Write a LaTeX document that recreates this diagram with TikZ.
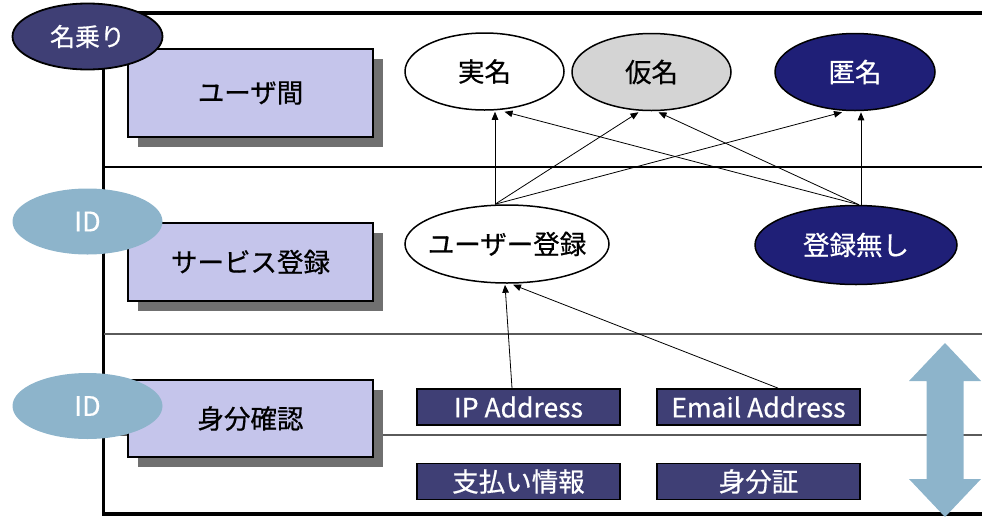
\documentclass[tikz,border=0pt]{standalone}
\usepackage{fontspec}
\setmainfont{Noto Sans CJK JP}[FakeBold=0.6]
\usetikzlibrary{arrows.meta,shapes.geometric,shadows}
\definecolor{boxfill}{HTML}{C5C5EB}
\definecolor{shadowgray}{HTML}{707070}
\definecolor{slate}{HTML}{3F3F75}
\definecolor{navyfill}{HTML}{1F1F77}
\definecolor{idblue}{HTML}{8DB4CB}
\definecolor{palegray}{HTML}{D4D4D4}
\definecolor{sepgray}{HTML}{5A5A5A}
\begin{document}
\begin{tikzpicture}[x=1pt,y=-1pt,
  frame/.style={line width=3.5pt, line cap=rect},
  septhick/.style={line width=2pt},
  septhin/.style={draw=sepgray, line width=1.2pt},
  levelbox/.style={draw=black, line width=1.5pt, fill=boxfill, inner sep=0pt,
    minimum width=245pt, font=\fontsize{26.5}{30}\selectfont,
    drop shadow={shadow xshift=10pt, shadow yshift=-10pt, fill=shadowgray, opacity=1}},
  tag/.style={ellipse, inner xsep=-20pt, inner ysep=0pt, minimum width=150pt, minimum height=66pt,
    text=white, font=\fontsize{25}{29}\selectfont},
  oval/.style={ellipse, draw=black, line width=1.5pt, inner xsep=-30pt, inner ysep=0pt,
    font=\fontsize{26.5}{30}\selectfont},
  item/.style={draw=black, line width=1.8pt, fill=slate, text=white, inner sep=0pt,
    minimum width=203pt, minimum height=36pt, font=\fontsize{26.5}{30}\selectfont},
  conn/.style={line width=0.8pt, -{Triangle[length=8pt,width=6.5pt]}}
]
\useasboundingbox (0,0) rectangle (982,517);
% frame
\draw[frame] (982,13) -- (103.5,13) -- (103.5,514) -- (982,514);
\draw[septhick] (104,167) -- (982,167);
\draw[septhin] (104,334) -- (982,334);
\draw[septhin] (104,435) -- (982,435);

% level boxes
\node[levelbox, minimum height=88pt] (lv1) at (250.5,93) {ユーザ間};
\node[levelbox, minimum height=78pt] (lv2) at (250.5,262) {サービス登録};
\node[levelbox, minimum height=77pt] (lv3) at (250.5,418.5) {身分確認};

% tags
\node[tag, draw=black, line width=1.8pt, fill=slate] (tname) at (87.5,36.5) {名乗り};
\node[tag, fill=idblue, font=\fontsize{27}{30}\selectfont] (tid1) at (87.5,221.5) {ID};
\node[tag, fill=idblue, font=\fontsize{27}{30}\selectfont] (tid2) at (87.5,406) {ID};

% top ovals
\node[oval, fill=white, minimum width=159pt, minimum height=77pt] (jitsu) at (484.5,71.5) {実名};
\node[oval, fill=palegray, minimum width=159pt, minimum height=77pt] (kamei) at (651.5,72) {仮名};
\node[oval, fill=navyfill, text=white, minimum width=160pt, minimum height=77pt] (tokumei) at (855,72) {匿名};

% middle ovals
\node[oval, fill=white, minimum width=204pt, minimum height=78pt] (reg) at (507,244) {ユーザー登録};
\node[oval, fill=navyfill, text=white, minimum width=202pt, minimum height=79pt] (noreg) at (856,245) {登録無し};

% bottom items
\node[item] (ip) at (518.5,407) {IP Address};
\node[item] (email) at (758.5,407) {Email Address};
\node[item] (pay) at (518.5,481.5) {支払い情報};
\node[item] (idcard) at (758.5,481.5) {身分証};

% connectors
\coordinate (ua) at ([xshift=-12pt]reg.north);
\coordinate (nb) at ([xshift=3pt]noreg.north);
\coordinate (nv) at ([xshift=5pt]noreg.north);
\draw[conn] (ua) -- ([xshift=10.5pt,yshift=-1pt]jitsu.south);
\draw[conn] (ua) -- ([xshift=-13pt,yshift=-1pt]kamei.south);
\draw[conn] (ua) -- ([xshift=-13pt,yshift=-1pt]tokumei.south);
\draw[conn] (nb) -- ([xshift=20pt,yshift=-1pt]jitsu.south);
\draw[conn] (nb) -- ([xshift=7pt,yshift=-1pt]kamei.south);
\draw[conn] (nv) -- ([xshift=6pt,yshift=-1pt]tokumei.south);
\draw[conn] ([xshift=-6.5pt]ip.north) -- ([xshift=-2pt,yshift=-1pt]reg.south);
\draw[conn] ([xshift=19.5pt]email.north) -- ([xshift=6pt,yshift=-1pt]reg.south);

% double arrow
\fill[idblue] (945,343) -- (981,381) -- (963.5,381) -- (963.5,479) -- (981,479)
  -- (945,517) -- (909,479) -- (926.5,479) -- (926.5,381) -- (909,381) -- cycle;
\end{tikzpicture}
\end{document}
